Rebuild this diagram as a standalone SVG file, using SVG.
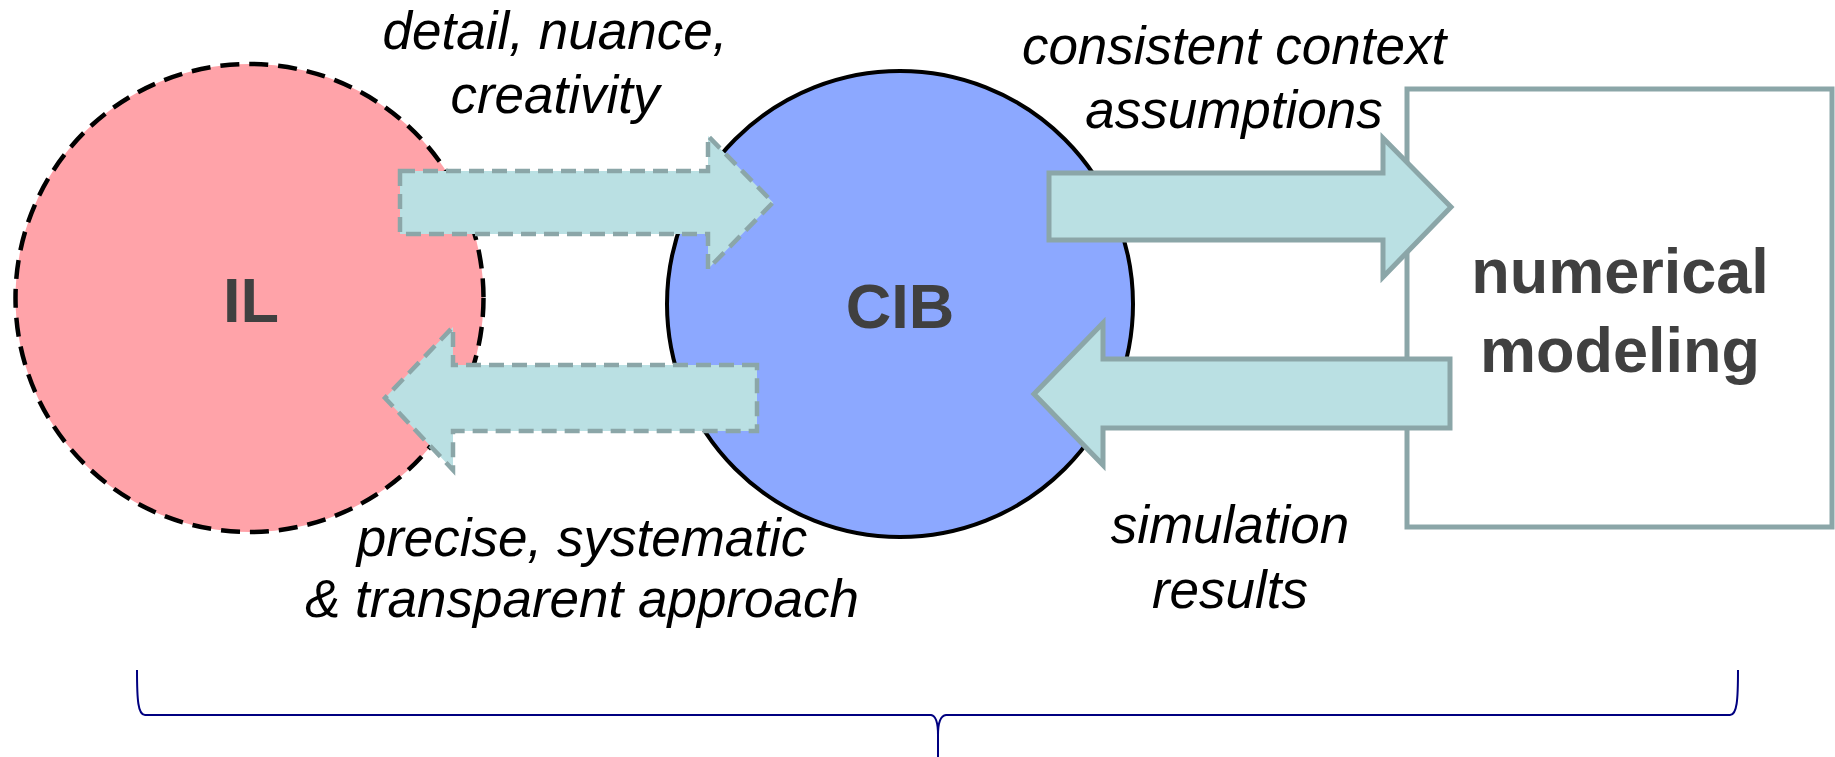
<svg xmlns="http://www.w3.org/2000/svg" width="1835" height="757" viewBox="0 0 1835 757">
  <style>
    .lbl { font-family: "Liberation Sans", Arial, sans-serif; font-style: italic; font-size: 53px; fill: #000000; text-anchor: middle; }
    .node { font-family: "Liberation Sans", Arial, sans-serif; font-weight: bold; font-size: 63px; fill: #404040; text-anchor: middle; }
    .arrow { fill: #BAE0E3; stroke: #8BA6A8; stroke-linejoin: miter; }
    .dashed { stroke-width: 4.5; stroke-dasharray: 15 8; }
    .solid { stroke-width: 5; }
  </style>
  <rect width="1835" height="757" fill="#FFFFFF"/>

  <g id="node-IL">
    <circle cx="249.5" cy="298" r="234" fill="#FFA3A9" stroke="#000000" stroke-width="4.5" stroke-dasharray="19 10"/>
    <text class="node" x="251" y="322">IL</text>
  </g>

  <g id="node-CIB">
    <circle cx="900" cy="304" r="233" fill="#8CA8FF" stroke="#000000" stroke-width="4"/>
    <text class="node" x="900" y="328">CIB</text>
  </g>

  <g id="node-numerical-modeling">
    <rect x="1407" y="89" width="425" height="438" fill="#FFFFFF" stroke="#8BA6A8" stroke-width="5"/>
    <text class="node" x="1620" y="293">numerical</text>
    <text class="node" x="1620" y="372">modeling</text>
  </g>

  <g id="connectors">
    <path class="arrow dashed" d="M400,171 L708,171 L708,136 L773,202.5 L708,269 L708,234 L400,234 Z"/>
    <path class="arrow dashed" d="M757,365 L453,365 L453,327 L385,398 L453,470 L453,431 L757,431 Z"/>
    <path class="arrow solid" d="M1049,173 L1383,173 L1383,138 L1451,207 L1383,277 L1383,240 L1049,240 Z"/>
    <path class="arrow solid" d="M1450,359 L1103,359 L1103,323 L1034,394 L1103,465 L1103,428 L1450,428 Z"/>
  </g>

  <g id="labels">
    <text class="lbl" x="555" y="49">detail, nuance,</text>
    <text class="lbl" x="555" y="113">creativity</text>
    <text class="lbl" x="1234" y="64">consistent context</text>
    <text class="lbl" x="1234" y="128">assumptions</text>
    <text class="lbl" x="582" y="556">precise, systematic</text>
    <text class="lbl" x="582" y="617">&amp; transparent approach</text>
    <text class="lbl" x="1230" y="543">simulation</text>
    <text class="lbl" x="1230" y="608">results</text>
  </g>

  <g id="brace">
    <path d="M137,670 C137,700 138,715 145,715 L931,715 Q938,716 938,735 L938,757 M938,735 Q938,716 946,715 L1730,715 C1737,715 1738,700 1738,670" fill="none" stroke="#000080" stroke-width="2"/>
  </g>
</svg>
